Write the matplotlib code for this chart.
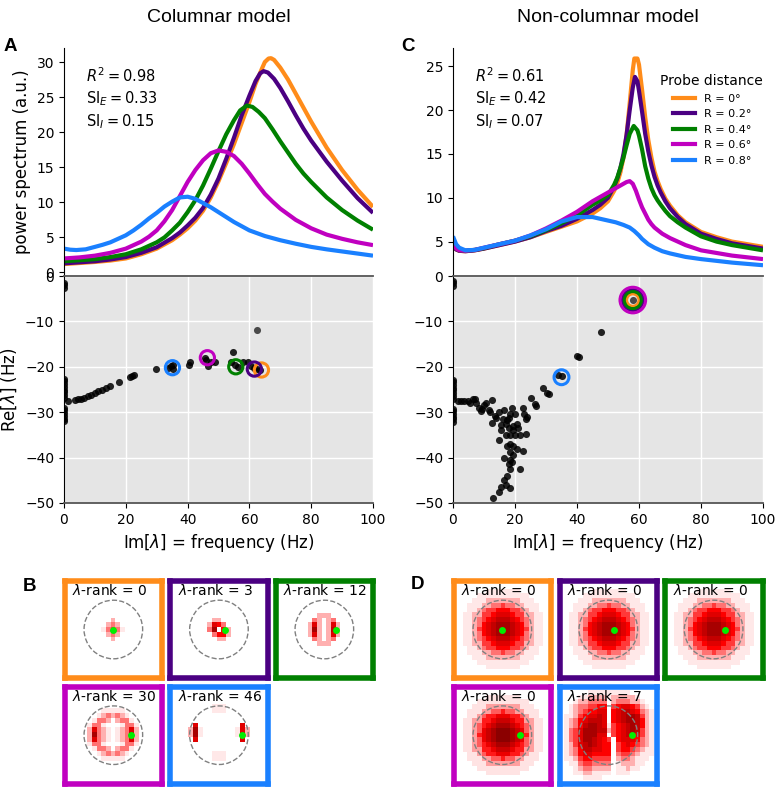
import numpy as np
import matplotlib
matplotlib.use("Agg")
import matplotlib.pyplot as plt
from matplotlib.colors import LinearSegmentedColormap
from matplotlib.patches import Circle

colors = ["#ff8c1a", "#4b0082", "#008000", "#c000c0", "#1a80ff"]
probe_labels = ["R = 0°", "R = 0.2°", "R = 0.4°", "R = 0.6°", "R = 0.8°"]
probe_R = [0.0, 0.2, 0.4, 0.6, 0.8]

# ---- power spectra, columnar model (A) ----
A_freq = [
    [0, 5, 10, 15, 20, 25, 30, 35, 37.5, 40, 42.5, 45, 47.5, 50, 52.5, 55, 57.5, 60, 62, 64, 65, 66.2, 67, 68, 70, 72.5, 75, 77.5, 80, 85, 90, 95, 100],
    [0, 5, 10, 15, 20, 25, 30, 35, 37.5, 40, 42.5, 45, 47.5, 50, 52.5, 55, 57.5, 60, 62, 63.5, 64.6, 66, 68, 70, 72.5, 75, 77.5, 80, 85, 90, 95, 100],
    [0, 5, 10, 15, 20, 25, 30, 32.5, 35, 37.5, 40, 42.5, 45, 47.5, 50, 52.5, 55, 57, 59.2, 61, 63, 65, 67.5, 70, 72.5, 75, 77.5, 80, 85, 90, 95, 100],
    [0, 5, 10, 15, 20, 25, 27.5, 30, 32.5, 35, 37.5, 40, 42.5, 45, 47.5, 50, 52.5, 55, 57.5, 60, 62.5, 65, 67.5, 70, 75, 80, 85, 90, 95, 100],
    [0, 2, 4, 7, 10, 12.5, 15, 17.5, 20, 22.5, 25, 27.5, 30, 32.5, 35, 37.5, 40, 42.5, 45, 47.5, 50, 52.5, 55, 57.5, 60, 65, 70, 75, 80, 85, 90, 95, 100],
]
A_power = [
    [1.2, 1.35, 1.5, 1.7, 2.0, 2.6, 3.4, 4.6, 5.4, 6.3, 7.4, 8.8, 10.7, 13.0, 15.6, 18.3, 21.3, 24.3, 26.9, 29.0, 30.0, 30.5, 30.55, 30.3, 29.2, 27.5, 25.5, 23.5, 21.5, 17.8, 14.6, 11.8, 9.35],
    [1.3, 1.45, 1.6, 1.85, 2.2, 2.8, 3.6, 4.9, 5.7, 6.7, 7.8, 9.2, 11.1, 13.4, 16.2, 19.2, 22.4, 25.2, 27.3, 28.4, 28.7, 28.5, 27.6, 26.3, 24.4, 22.4, 20.5, 18.8, 15.8, 13.1, 10.6, 8.5],
    [1.6, 1.75, 1.9, 2.2, 2.6, 3.3, 4.3, 5.0, 6.0, 7.1, 8.6, 10.3, 12.4, 14.8, 17.3, 19.7, 21.7, 23.1, 23.8, 23.6, 22.9, 22.0, 20.4, 18.7, 17.1, 15.5, 14.1, 12.9, 10.7, 8.9, 7.4, 6.1],
    [2.0, 2.15, 2.4, 2.8, 3.4, 4.4, 5.1, 6.0, 7.3, 8.9, 10.9, 12.9, 14.6, 16.0, 17.0, 17.4, 17.2, 16.6, 15.5, 14.1, 12.6, 11.2, 10.1, 9.1, 7.5, 6.3, 5.4, 4.8, 4.3, 3.9],
    [3.4, 3.25, 3.2, 3.3, 3.65, 3.95, 4.3, 4.8, 5.3, 6.0, 6.8, 7.7, 8.5, 9.4, 10.1, 10.7, 10.8, 10.5, 9.9, 9.3, 8.6, 7.9, 7.2, 6.6, 6.0, 5.2, 4.6, 4.1, 3.65, 3.3, 3.0, 2.7, 2.4],
]

# ---- power spectra, non-columnar model (C) ----
C_freq = [
    [0, 1, 2, 4, 7, 10, 15, 20, 25, 30, 35, 40, 45, 47.5, 50, 52, 53, 54, 55, 56, 57, 58, 58.5, 59.5, 60, 61, 62, 63, 64, 65, 66, 67, 68.5, 70, 72.5, 75, 80, 85, 90, 95, 100],
    [0, 1, 2, 4, 7, 10, 15, 20, 25, 30, 35, 40, 45, 47.5, 50, 52, 53, 54, 55, 56, 57, 58, 58.7, 59.5, 60, 61, 62, 63, 64, 65, 66, 67, 68.5, 70, 72.5, 75, 80, 85, 90, 95, 100],
    [0, 1, 2, 4, 7, 10, 15, 20, 25, 30, 35, 40, 45, 47.5, 50, 52, 53, 54, 55, 56, 57, 58.3, 59.5, 60, 61, 62, 63, 64, 65, 66, 67, 68.5, 70, 72.5, 75, 80, 85, 90, 95, 100],
    [0, 1, 2, 4, 7, 10, 15, 20, 25, 30, 35, 40, 45, 47.5, 50, 52, 54, 55, 56, 57, 58, 59, 60, 61, 62, 63, 64, 65, 67.5, 70, 75, 80, 85, 90, 95, 100],
    [0, 1, 2, 4, 7, 10, 15, 20, 25, 30, 35, 40, 45, 50, 52.5, 55, 57, 58.5, 60, 61, 62, 63, 65, 67.5, 70, 75, 80, 85, 90, 95, 100],
]
C_power = [
    [4.4, 4.1, 3.95, 3.9, 4.0, 4.2, 4.6, 5.0, 5.5, 6.1, 6.7, 7.3, 8.2, 8.8, 9.6, 10.8, 11.7, 12.9, 14.6, 17.2, 20.8, 24.6, 25.9, 25.9, 25.2, 22.3, 19.2, 16.6, 14.6, 13.0, 11.9, 11.0, 9.9, 9.1, 8.0, 7.2, 6.1, 5.5, 5.0, 4.7, 4.4],
    [4.5, 4.1, 3.95, 3.9, 4.0, 4.2, 4.6, 5.0, 5.5, 6.2, 6.8, 7.6, 8.6, 9.2, 10.0, 11.3, 12.2, 13.4, 15.0, 17.2, 20.0, 22.6, 23.8, 23.3, 22.2, 19.8, 17.3, 15.3, 13.7, 12.4, 11.4, 10.6, 9.6, 8.8, 7.8, 7.0, 5.9, 5.3, 4.8, 4.5, 4.2],
    [4.6, 4.2, 4.0, 3.95, 4.05, 4.25, 4.7, 5.1, 5.6, 6.3, 7.1, 8.0, 9.2, 9.7, 10.3, 11.5, 12.3, 13.4, 14.6, 16.0, 17.3, 18.2, 17.7, 17.1, 15.5, 13.6, 12.2, 11.1, 10.3, 9.7, 9.2, 8.5, 7.9, 7.2, 6.6, 5.6, 5.0, 4.6, 4.3, 4.0],
    [4.8, 4.2, 4.0, 3.95, 4.05, 4.3, 4.7, 5.1, 5.7, 6.5, 7.4, 8.4, 9.6, 10.1, 10.6, 11.0, 11.4, 11.6, 11.8, 11.9, 11.6, 10.8, 9.8, 8.9, 8.2, 7.5, 7.0, 6.6, 5.9, 5.4, 4.6, 4.0, 3.7, 3.4, 3.2, 3.0],
    [5.6, 4.7, 4.3, 4.0, 4.05, 4.3, 4.7, 5.1, 5.7, 6.4, 7.3, 7.8, 7.8, 7.4, 7.2, 6.9, 6.6, 6.2, 5.7, 5.3, 5.0, 4.7, 4.3, 3.9, 3.65, 3.25, 3.0, 2.8, 2.6, 2.45, 2.3],
]

A_stats = [r"$R^2 = 0.98$", r"SI$_E = 0.33$", r"SI$_I = 0.15$"]
C_stats = [r"$R^2 = 0.61$", r"SI$_E = 0.42$", r"SI$_I = 0.07$"]

# ---- eigenvalues (Im = frequency, Re) ----
A_eig_im = [0, 0, 0, 0, 0, 0, 0, 0, 0, 0, 0, 0, 0, 0, 0, 0, 0,
            1.4, 3.5, 4.5, 5.5, 6.5, 7.7, 8.6, 10.0, 11.0, 12.2, 13.5, 14.8, 17.8, 21.2, 22.0, 22.8,
            29.8, 33.8, 34.6, 35.4, 35.4, 40.5, 40.8, 45.5, 46.0, 46.6, 47.5, 49.0,
            54.0, 54.8, 55.2, 56.2, 58.0, 59.5, 60.5, 61.5, 62.5, 63.3]
A_eig_re = [-1.5, -2.0, -2.6, -22.6, -23.2, -23.8, -24.4, -25.0, -25.6, -26.2, -26.8,
            -29.0, -29.6, -30.2, -30.8, -31.4, -32.0,
            -27.5, -27.3, -27.2, -27.0, -26.8, -26.5, -26.2, -25.8, -25.4, -25.0, -24.6, -24.2, -23.4, -22.3, -22.0, -21.7,
            -20.5, -20.2, -19.9, -20.4, -19.6, -19.5, -18.9, -18.0, -18.6, -19.9, -19.0, -19.0,
            -19.0, -16.7, -19.6, -20.0, -19.0, -18.9, -19.8, -20.2, -20.5, -20.8]
A_single_im = [62.5]
A_single_re = [-11.8]
A_probe_im = [63.9, 61.6, 55.6, 46.4, 35.1]
A_probe_re = [-20.7, -20.5, -20.0, -18.0, -20.2]
A_probe_size = [105, 105, 105, 105, 105]

C_eig_im = [0, 0, 0, 0, 0, 0, 0, 0, 0, 0, 0, 0, 0, 0, 0, 0, 0,
            1.5, 2.5, 3.5, 5.0, 5.5, 6.5, 7.0, 7.5, 8.5, 9.0, 9.5, 10.0, 10.5, 11.5, 12.0, 12.5, 12.5,
            13.5, 14.0, 15.0, 15.5, 16.0, 16.5, 15.5, 15.0, 17.0, 17.5, 18.0, 18.5, 19.0, 20.0, 19.5,
            18.0, 17.0, 18.5, 19.5, 20.5, 21.0, 20.0, 21.5, 17.5, 18.5, 19.5, 20.5, 18.5, 19.5,
            16.5, 18.5, 18.0, 19.0, 18.5, 21.5, 17.5, 16.5, 17.0, 15.5, 15.0, 18.5, 13.0,
            22.5, 23.0, 23.5, 24.0, 22.5, 23.5, 25.3, 26.4, 26.9, 29.1, 30.4, 31.0,
            33.9, 35.0, 40.1, 40.6, 47.7]
C_eig_re = [-1.0, -1.6, -2.2, -22.8, -23.4, -24.0, -24.6, -25.2, -25.8, -26.4, -27.0,
            -29.2, -29.8, -30.4, -31.0, -31.6, -32.2,
            -27.6, -27.5, -27.5, -27.5, -28.0, -27.2, -27.0, -28.0, -29.0, -29.8, -29.3, -28.5, -28.0, -29.6, -30.0, -27.3, -32.3,
            -30.8, -31.2, -30.0, -32.8, -31.5, -29.5, -34.0, -36.2, -32.5, -31.8, -31.2, -30.5, -29.0, -30.5, -33.0,
            -33.5, -35.0, -35.0, -34.0, -32.5, -33.5, -35.0, -35.0, -37.5, -37.0, -37.5, -38.0, -38.8, -39.5,
            -40.0, -40.5, -41.5, -41.0, -42.5, -42.5, -44.0, -45.0, -46.0, -46.5, -47.5, -46.7, -49.0,
            -29.0, -30.5, -31.5, -31.0, -38.5, -34.8, -26.9, -28.1, -28.7, -24.7, -25.8, -26.0,
            -21.8, -22.1, -17.6, -17.8, -12.3]
C_single_im = [58.0]
C_single_re = [-5.3]
C_probe_im = [58.0, 58.0, 58.0, 58.0, 35.0]
C_probe_re = [-5.3, -5.3, -5.3, -5.3, -22.3]
C_probe_size = [80, 220, 150, 340, 115]

# ---- eigenmode maps (0 = white ... 9 = dark red), rows top to bottom ----
B_rank = [0, 3, 12, 30, 46]
D_rank = [0, 0, 0, 0, 7]

mode_B0 = ["00000000000000000"] * 5 + [
    "00000000200000000",
    "00000002320000000",
    "00000013431000000",
    "00000002320000000",
    "00000000200000000",
] + ["00000000000000000"] * 5
mode_B3 = ["00000000000000000"] * 5 + [
    "00000002200000000",
    "00000026530000000",
    "00000038052000000",
    "00000003552000000",
    "00000000220000000",
] + ["00000000000000000"] * 5
mode_B12 = ["00000000000000000"] * 4 + [
    "00000002220000000",
    "00000032023000000",
    "00000262026200000",
    "00000282027200000",
    "00000262026200000",
    "00000032023000000",
    "00000002220000000",
] + ["00000000000000000"] * 4
mode_B30 = ["00000000000000000"] * 2 + [
    "00000011111000000",
    "00000123232100000",
    "00001332023310000",
    "00013310001331000",
    "00026321012362000",
    "00028321012372000",
    "00026321012362000",
    "00013310001331000",
    "00001332023310000",
    "00000123232100000",
    "00000011111000000",
] + ["00000000000000000"] * 2
mode_B46 = ["00000000000000000"] + [
    "00000001110000000",
    "00000001110000000",
    "00000000000000000",
    "00000000000000000",
    "00060000000006000",
    "00281000000016200",
    "00281000000017200",
    "00060000000006000",
    "00000000000000000",
    "00000000000000000",
    "00000001110000000",
    "00000001110000000",
] + ["00000000000000000"] * 2
mode_D0 = [
    "0000000000000000000",
    "0000001111111000000",
    "0000111111111110000",
    "0001112222222111000",
    "0011122334332211100",
    "0011234455544321100",
    "0112244566654422110",
    "0112345677765432110",
    "0112356788876532110",
    "0112456788876542110",
    "0112356788876532110",
    "0112345677765432110",
    "0112244566654422110",
    "0011234455544321100",
    "0011122334332211100",
    "0001112222222111000",
    "0000111111111110000",
    "0000001111111000000",
    "0000000000000000000",
]
mode_D7 = [
    "0000011111111100000",
    "0001122221222221000",
    "0012233330233322100",
    "0123344550456654210",
    "0123455660567765321",
    "1124566760567887421",
    "1235677760567887521",
    "1235788761456787521",
    "1346888772456787421",
    "1346888660456776421",
    "1346887654056665321",
    "1246787655045654321",
    "1235776655045543211",
    "1235665555034432111",
    "1124554444023321110",
    "0113443333012221100",
    "0012332222011211000",
    "0011221111011100000",
    "0000111100000000000",
]
B_modes = [mode_B0, mode_B3, mode_B12, mode_B30, mode_B46]
D_modes = [mode_D0, mode_D0, mode_D0, mode_D0, mode_D7]
D_vmax = [9, 9, 9, 8, 9]

W, H = 777, 789
fig = plt.figure(figsize=(W / 100, H / 100), dpi=100)


def px_axes(x0, y0, x1, y1):
    return fig.add_axes([x0 / W, 1 - y1 / H, (x1 - x0) / W, (y1 - y0) / H])


def spectrum_panel(ax, freqs, powers, stats, ylim, ylabel):
    for f, p, c in zip(freqs, powers, colors):
        ax.plot(f, p, color=c, lw=3, solid_joinstyle="round", solid_capstyle="butt")
    ax.set_xlim(0, 100)
    ax.set_ylim(*ylim)
    ax.set_xticks([])
    for s in ["top", "right", "bottom"]:
        ax.spines[s].set_visible(False)
    ax.tick_params(labelsize=10)
    if ylabel:
        ax.set_ylabel("power spectrum (a.u.)", fontsize=12)
    for i, t in enumerate(stats):
        ax.text(0.072, 0.877 - 0.099 * i, t, transform=ax.transAxes, fontsize=10.5, va="center")


def eig_panel(ax, im, re, sim, sre, pim, pre, psize, ylabel):
    ax.set_facecolor("#e5e5e5")
    ax.grid(True, color="white", lw=1)
    ax.set_axisbelow(True)
    ax.scatter(im, re, s=26, color="black", alpha=0.85, lw=0, zorder=2)
    ax.scatter(sim, sre, s=26, color="#4a4a4a", lw=0, zorder=2)
    for x, y, c, s in zip(pim, pre, colors, psize):
        ax.scatter([x], [y], s=s, facecolors="none", edgecolors=c, lw=2.2, zorder=3)
    ax.set_xlim(0, 100)
    ax.set_ylim(-50, 0)
    ax.set_xticks(range(0, 101, 20))
    ax.set_yticks(range(-50, 1, 10))
    ax.spines["right"].set_visible(False)
    ax.spines["top"].set_color("#555555")
    ax.spines["bottom"].set_color("#555555")
    ax.spines["top"].set_linewidth(1.3)
    ax.spines["bottom"].set_linewidth(1.3)
    ax.tick_params(labelsize=10)
    ax.set_xlabel(r"Im[$\lambda$] = frequency (Hz)", fontsize=12)
    if ylabel:
        ax.set_ylabel(r"Re[$\lambda$] (Hz)", fontsize=12)


cmap = LinearSegmentedColormap.from_list(
    "wr", [(0.0, "white"), (0.12, "#ffe6e6"), (0.55, "#ff0000"), (1.0, "#8b0000")])
dx = 0.16


def mode_panel(ax, rows, rank, R, color, vmax):
    arr = np.array([[int(ch) for ch in r] for r in rows], dtype=float)
    nr, nc = arr.shape
    ax.imshow(arr, cmap=cmap, vmin=0, vmax=vmax, interpolation="nearest", aspect="auto",
              extent=(-nc / 2 * dx, nc / 2 * dx, -nr / 2 * dx, nr / 2 * dx))
    ax.add_patch(Circle((0, 0), 1.0, fill=False, ls="--", color="gray", lw=1))
    ax.plot([R], [0], "o", color="#00ee00", ms=5, mew=0)
    ax.set_xlim(-1.667, 1.667)
    ax.set_ylim(-1.652, 1.652)
    ax.set_xticks([])
    ax.set_yticks([])
    for s in ax.spines.values():
        s.set_color(color)
        s.set_linewidth(4)
    ax.text(0.08, 0.9, r"$\lambda$-rank = %d" % rank, transform=ax.transAxes, fontsize=10, va="center")


axA = px_axes(64, 48, 373, 276)
spectrum_panel(axA, A_freq, A_power, A_stats, (-0.5, 32.0), True)
axA2 = px_axes(64, 276, 373, 503)
eig_panel(axA2, A_eig_im, A_eig_re, A_single_im, A_single_re, A_probe_im, A_probe_re, A_probe_size, True)

axC = px_axes(453, 48, 763, 276)
spectrum_panel(axC, C_freq, C_power, C_stats, (1.07, 27.1), False)
axC.legend([plt.Line2D([], [], color=c, lw=3) for c in colors], probe_labels, title="Probe distance",
           frameon=False, fontsize=8, title_fontsize=10, loc="upper right", bbox_to_anchor=(1.033, 0.93))
axC2 = px_axes(453, 276, 763, 503)
eig_panel(axC2, C_eig_im, C_eig_re, C_single_im, C_single_re, C_probe_im, C_probe_re, C_probe_size, False)

col_B = [64.5, 170.1, 275.5]
col_D = [453.5, 559.5, 664.8]
row_top = [581.1, 686.8]
for k in range(5):
    r, c = divmod(k, 3)
    axb = px_axes(col_B[c], row_top[r], col_B[c] + 97.7, row_top[r] + 96.8)
    mode_panel(axb, B_modes[k], B_rank[k], probe_R[k], colors[k], 9)
    axd = px_axes(col_D[c], row_top[r], col_D[c] + 97.7, row_top[r] + 96.8)
    mode_panel(axd, D_modes[k], D_rank[k], probe_R[k], colors[k], D_vmax[k])

title_font = "Liberation Sans"
fig.text(218.5 / W, 1 - 17 / H, "Columnar model", ha="center", va="center", fontsize=14, family=title_font)
fig.text(608 / W, 1 - 17 / H, "Non-columnar model", ha="center", va="center", fontsize=14, family=title_font)
for lab, x, y in [("A", 4, 46.5), ("C", 401, 46.5), ("B", 23, 586.5), ("D", 411, 584.5)]:
    fig.text(x / W, 1 - y / H, lab, ha="left", va="center", fontsize=13.5, fontweight="bold", family=title_font)

fig.savefig("out.png", dpi=100)
